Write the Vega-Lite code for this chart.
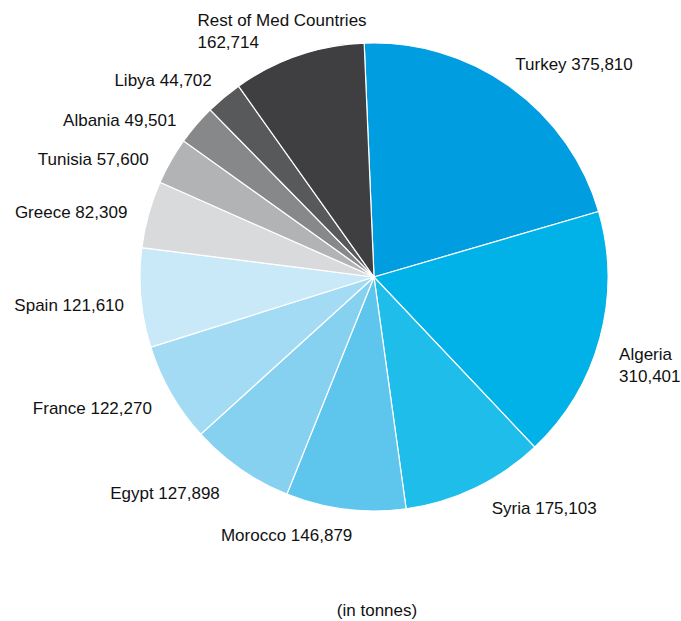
{
  "$schema": "https://vega.github.io/schema/vega-lite/v6.json",
  "width": 614,
  "height": 554,
  "autosize": "none",
  "padding": {"left": 67, "top": 0, "right": 0, "bottom": 67},
  "background": "white",
  "title": {"text": "(in tonnes)", "orient": "bottom", "anchor": "middle", "offset": 49, "dx": 3, "font": "Liberation Sans", "fontSize": 17, "fontWeight": "normal", "color": "#111"},
  "config": {"view": {"stroke": null}, "text": {"font": "Liberation Sans", "fontSize": 17, "color": "#111"}},
  "data": {"values": [
    {"order": 1, "country": "Turkey", "tonnes": 375810, "label": "Turkey 375,810", "color": "#009ee0"},
    {"order": 2, "country": "Algeria", "tonnes": 310401, "label": "Algeria\n310,401", "color": "#00b2e7"},
    {"order": 3, "country": "Syria", "tonnes": 175103, "label": "Syria 175,103", "color": "#1fbdea"},
    {"order": 4, "country": "Morocco", "tonnes": 146879, "label": "Morocco 146,879", "color": "#5ec6ec"},
    {"order": 5, "country": "Egypt", "tonnes": 127898, "label": "Egypt 127,898", "color": "#86d0f0"},
    {"order": 6, "country": "France", "tonnes": 122270, "label": "France 122,270", "color": "#a3dbf4"},
    {"order": 7, "country": "Spain", "tonnes": 121610, "label": "Spain 121,610", "color": "#c9e8f8"},
    {"order": 8, "country": "Greece", "tonnes": 82309, "label": "Greece 82,309", "color": "#d9dadb"},
    {"order": 9, "country": "Tunisia", "tonnes": 57600, "label": "Tunisia 57,600", "color": "#b2b3b5"},
    {"order": 10, "country": "Albania", "tonnes": 49501, "label": "Albania 49,501", "color": "#87888a"},
    {"order": 11, "country": "Libya", "tonnes": 44702, "label": "Libya 44,702", "color": "#58595b"},
    {"order": 12, "country": "Rest of Med Countries", "tonnes": 162714, "label": "Rest of Med Countries\n162,714", "color": "#3f3f42"}
  ]},
  "transform": [
    {"stack": "tonnes", "groupby": [], "sort": [{"field": "order", "order": "ascending"}], "as": ["v0", "v1"]},
    {"calculate": "(datum.v0 + datum.v1) / 2", "as": "mid"}
  ],
  "layer": [
    {
      "mark": {"type": "arc", "outerRadius": 234, "stroke": "white", "strokeWidth": 1.2},
      "encoding": {
        "theta": {"field": "v0", "type": "quantitative", "scale": {"domain": [0, 1776797], "range": [-0.042, 6.2412]}},
        "theta2": {"field": "v1"},
        "color": {"field": "color", "type": "nominal", "scale": null, "legend": null}
      }
    },
    {
      "transform": [{"filter": "datum.order == 1"}],
      "mark": {"type": "text", "radius": 256, "align": "left", "baseline": "middle", "dx": -8, "dy": -4},
      "encoding": {"theta": {"field": "mid", "type": "quantitative"}, "text": {"field": "label"}}
    },
    {
      "transform": [{"filter": "datum.order == 3"}],
      "mark": {"type": "text", "radius": 256, "align": "left", "baseline": "middle", "dx": 7, "dy": 1},
      "encoding": {"theta": {"field": "mid", "type": "quantitative"}, "text": {"field": "label"}}
    },
    {
      "transform": [{"filter": "datum.order == 2"}],
      "mark": {"type": "text", "radius": 256, "align": "left", "baseline": "middle", "lineBreak": "\n", "lineHeight": 22, "dx": -2, "dy": 11},
      "encoding": {"theta": {"field": "mid", "type": "quantitative"}, "text": {"field": "label"}}
    },
    {
      "transform": [{"filter": "datum.order == 4"}],
      "mark": {"type": "text", "radius": 258, "align": "center", "baseline": "middle", "dx": -56, "dy": 3},
      "encoding": {"theta": {"field": "mid", "type": "quantitative"}, "text": {"field": "label"}}
    },
    {
      "transform": [{"filter": "datum.order == 5"}],
      "mark": {"type": "text", "radius": 256, "align": "right", "baseline": "middle", "dx": -8, "dy": 7},
      "encoding": {"theta": {"field": "mid", "type": "quantitative"}, "text": {"field": "label"}}
    },
    {
      "transform": [{"filter": "datum.order == 6 || datum.order == 8"}],
      "mark": {"type": "text", "radius": 256, "align": "right", "baseline": "middle", "dx": 0, "dy": 5},
      "encoding": {"theta": {"field": "mid", "type": "quantitative"}, "text": {"field": "label"}}
    },
    {
      "transform": [{"filter": "datum.order == 7"}],
      "mark": {"type": "text", "radius": 256, "align": "right", "baseline": "middle", "dx": 5, "dy": 6},
      "encoding": {"theta": {"field": "mid", "type": "quantitative"}, "text": {"field": "label"}}
    },
    {
      "transform": [{"filter": "datum.order == 9 || datum.order == 10"}],
      "mark": {"type": "text", "radius": 256, "align": "right", "baseline": "middle", "dx": -3, "dy": 10},
      "encoding": {"theta": {"field": "mid", "type": "quantitative"}, "text": {"field": "label"}}
    },
    {
      "transform": [{"filter": "datum.order == 11"}],
      "mark": {"type": "text", "radius": 256, "align": "right", "baseline": "middle", "dx": 2, "dy": 0},
      "encoding": {"theta": {"field": "mid", "type": "quantitative"}, "text": {"field": "label"}}
    },
    {
      "transform": [{"filter": "datum.order == 12"}],
      "mark": {"type": "text", "radius": 258, "align": "left", "baseline": "middle", "lineBreak": "\n", "lineHeight": 22, "dx": -93, "dy": -12},
      "encoding": {"theta": {"field": "mid", "type": "quantitative"}, "text": {"field": "label"}}
    }
  ]
}
